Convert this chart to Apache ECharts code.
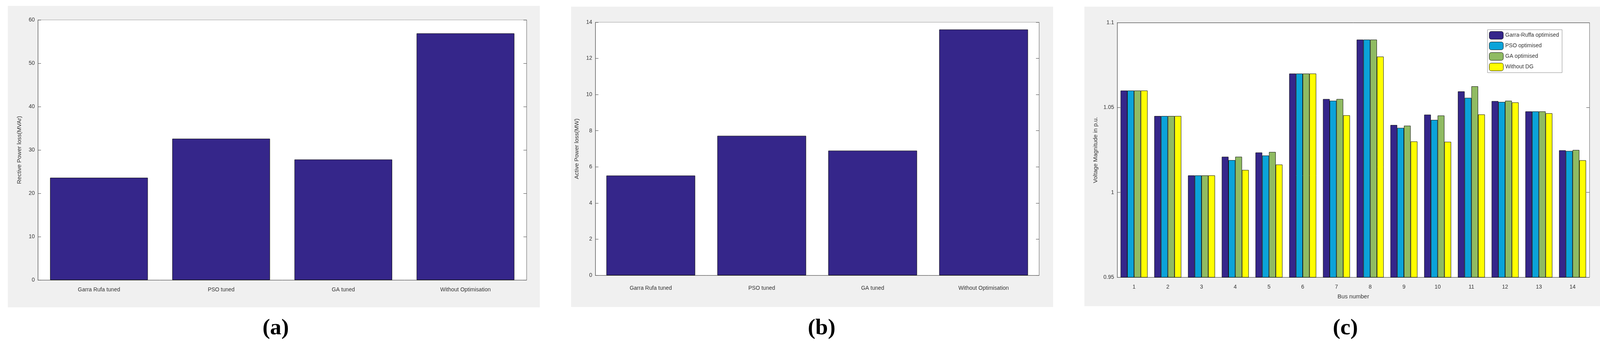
<!DOCTYPE html>
<html><head><meta charset="utf-8">
<script src="https://cdn.jsdelivr.net/npm/echarts@6/dist/echarts.min.js"></script>
<style>html,body{margin:0;padding:0;background:#fff}#c{width:4116px;height:909px}</style>
</head><body><div id="c"></div>
<script>
const methodCats = ['Garra Rufa tuned','PSO tuned','GA tuned','Without Optimisation'];
const methodCatsB = ['Garra Rufa tuned','PSO tuned','GA tuned','Without Optimisation'];
const reactiveLoss = [23.6, 32.6, 27.8, 56.9];
const activeLoss = [5.52, 7.72, 6.90, 13.6];
const buses = ['1','2','3','4','5','6','7','8','9','10','11','12','13','14'];
const garraV = [1.06,1.045,1.01,1.021,1.0235,1.07,1.055,1.09,1.0397,1.0458,1.0595,1.0538,1.0477,1.0248];
const psoV   = [1.06,1.045,1.01,1.019,1.0217,1.07,1.054,1.09,1.038,1.0427,1.0557,1.0533,1.0477,1.0244];
const gaV    = [1.06,1.045,1.01,1.021,1.0238,1.07,1.055,1.09,1.0393,1.0453,1.0625,1.054,1.0477,1.025];
const noDgV  = [1.06,1.045,1.01,1.0132,1.0164,1.07,1.0454,1.08,1.030,1.0298,1.0459,1.053,1.0466,1.0189];
const seriesNames = ['Garra-Ruffa optimised','PSO optimised','GA optimised','Without DG'];
const colors = ['#35268a','#0ba3d9','#90bb62','#ffff00'];

const ch = echarts.init(document.getElementById('c'));
const txt = {color:'#333', fontFamily:'Liberation Sans', fontSize:14};
const grids = [
  {left:97, top:51, width:1251, height:666},
  {left:1524, top:57, width:1136, height:648},
  {left:2860, top:58, width:1209, height:652}
];
function yAx(i, min, max, itv, name, fmt){
  return {gridIndex:i, type:'value', min, max, interval:itv, name, nameLocation:'middle', nameGap:i===2?48:40,
    nameTextStyle:Object.assign({},txt,{fontSize:15}),
    axisLine:{show:true,lineStyle:{color:'#444'}}, axisTick:{show:true,inside:true,length:8,lineStyle:{color:'#444'}},
    axisLabel:Object.assign({},txt,{formatter:fmt}), splitLine:{show:false}};
}
function yRight(i,min,max,itv){
  return {gridIndex:i,type:'value',min,max,interval:itv,position:'right',axisLine:{show:true,lineStyle:{color:'#888'}},
    axisTick:{show:true,inside:true,length:8,lineStyle:{color:'#444'}},axisLabel:{show:false},splitLine:{show:false}};
}
function xAx(i,data,name){
  return {gridIndex:i,type:'category',data,name,nameLocation:'middle',nameGap:42,nameTextStyle:Object.assign({},txt,{fontSize:15}),
    axisLine:{lineStyle:{color:'#555'}},axisTick:{show:i===2,inside:true,alignWithLabel:true,length:6},axisLabel:Object.assign({},txt,{margin:i===1?26:18})};
}
const series = [
  {type:'bar',xAxisIndex:0,yAxisIndex:0,data:reactiveLoss,barCategoryGap:'20%',itemStyle:{color:'#35268a',borderColor:'#111',borderWidth:1}},
  {type:'bar',xAxisIndex:1,yAxisIndex:2,data:activeLoss,barCategoryGap:'20%',itemStyle:{color:'#35268a',borderColor:'#111',borderWidth:1}}
];
[garraV,psoV,gaV,noDgV].forEach((d,k)=>series.push({type:'bar',name:seriesNames[k],xAxisIndex:2,yAxisIndex:4,data:d,
  barGap:'0%',barCategoryGap:'20%',itemStyle:{color:colors[k],borderColor:'#111',borderWidth:1}}));
ch.setOption({
  animation:false,
  graphic:[
    {type:'rect',shape:{x:20,y:15,width:1362,height:772},style:{fill:'#f0f0f0'},z:-10},
    {type:'rect',shape:{x:1462,y:17,width:1234,height:769},style:{fill:'#f0f0f0'},z:-10},
    {type:'rect',shape:{x:2776,y:17,width:1322,height:767},style:{fill:'#f0f0f0'},z:-10},
    {type:'text',left:672,top:812,style:{text:'(a)',font:'bold 58px "Liberation Serif"',fill:'#000'}},
    {type:'text',left:2068,top:812,style:{text:'(b)',font:'bold 58px "Liberation Serif"',fill:'#000'}},
    {type:'text',left:3412,top:812,style:{text:'(c)',font:'bold 58px "Liberation Serif"',fill:'#000'}}
  ],
  grid:grids.map(g=>Object.assign({show:true,backgroundColor:'#fff',borderColor:'#999',borderWidth:1},g)),
  xAxis:[xAx(0,methodCats,''),xAx(1,methodCatsB,''),xAx(2,buses,'Bus number'),
    {gridIndex:2,type:'category',position:'top',data:buses,axisLine:{show:true,lineStyle:{color:'#444'}},axisTick:{show:false},axisLabel:{show:false}}],
  yAxis:[yAx(0,0,60,10,'Rective Power loss(MVAr)'),yRight(0,0,60,10),
    yAx(1,0,14,2,'Active Power loss(MW)'),yRight(1,0,14,2),
    yAx(2,0.95,1.1,0.05,'Voltage Magnitude in p.u.',v=>String(+v.toFixed(2))),yRight(2,0.95,1.1,0.05)],
  legend:{data:seriesNames,orient:'vertical',left:3808,top:76,itemWidth:36,itemHeight:20,itemGap:6,
    backgroundColor:'#fff',borderColor:'#888',borderWidth:1,padding:[4,8,4,4],textStyle:Object.assign({},txt,{fontSize:14}),
    itemStyle:{borderColor:'#111',borderWidth:1}},
  series
});
</script></body></html>
